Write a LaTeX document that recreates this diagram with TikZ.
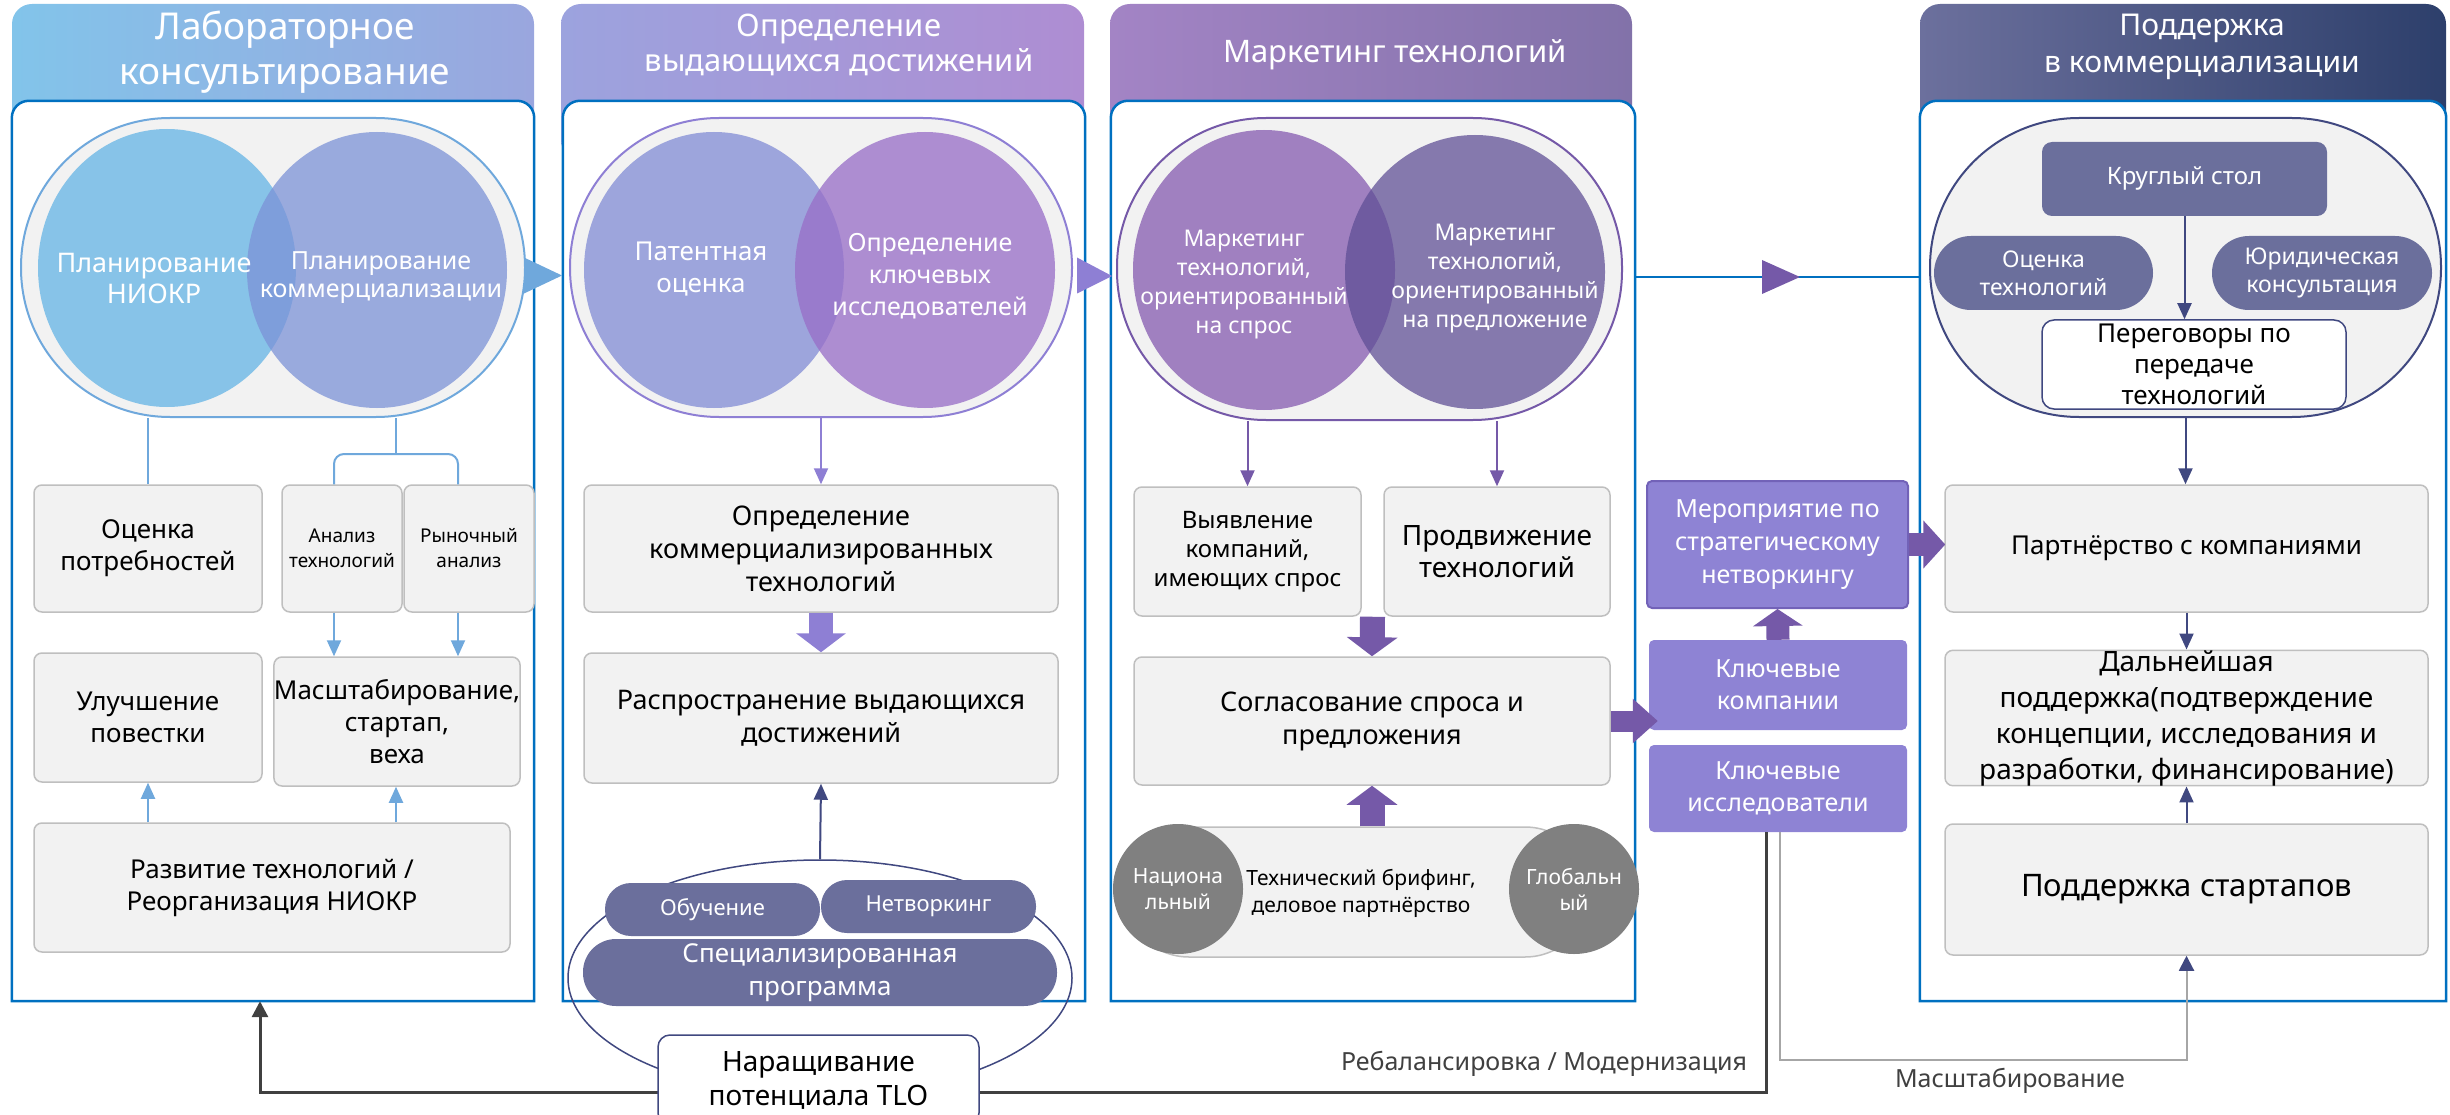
\documentclass[tikz,border=0pt]{standalone}
\usepackage{fontspec}
\setmainfont{Noto Sans}
\usetikzlibrary{arrows.meta,shapes.geometric,calc}
\newcommand\ftsz[2]{\fontsize{#1pt}{#2pt}\selectfont}
\definecolor{gfill}{HTML}{F2F2F2}
\definecolor{gbord}{HTML}{BFBFBF}
\definecolor{frame}{HTML}{0070C0}
\definecolor{cA}{HTML}{6FA8DC}
\definecolor{cB}{HTML}{8E7FD4}
\definecolor{cC}{HTML}{7559A8}
\definecolor{cD}{HTML}{404880}
\definecolor{slate}{HTML}{6B6F9C}
\definecolor{mid}{HTML}{8E83D4}
\definecolor{midb}{HTML}{7262B8}
\definecolor{dk}{HTML}{404040}
\definecolor{lg}{HTML}{A6A6A6}
\definecolor{eAL}{HTML}{87C3E8}
\definecolor{eAR}{HTML}{7C92D7}
\definecolor{eBL}{HTML}{9DA5DC}
\definecolor{eBR}{HTML}{996FC8}
\definecolor{eCL}{HTML}{A080C0}
\definecolor{eCR}{HTML}{5F4F95}
\definecolor{gc}{HTML}{808080}
\definecolor{hAL}{HTML}{82C4EA}
\definecolor{hAR}{HTML}{9AA6DE}
\definecolor{hBL}{HTML}{9CA3DE}
\definecolor{hBR}{HTML}{AE8DD2}
\definecolor{hCL}{HTML}{A384C5}
\definecolor{hCR}{HTML}{8272A9}
\definecolor{hDL}{HTML}{6C709D}
\definecolor{hDR}{HTML}{2D3F6B}
\begin{document}
\begin{tikzpicture}[x=1pt,y=-1pt,
  gbox/.style={draw=gbord, fill=gfill, line width=1.5pt, rounded corners=8pt, align=center, inner sep=0pt, text=black},
  vcont/.style={fill=gfill, line width=2pt, rounded corners=149pt, inner sep=0pt},
  ell/.style={ellipse, inner sep=0pt, draw=none},
  wtxt/.style={text=white, align=center, inner sep=0pt},
  pill/.style={fill=slate, text=white, align=center, inner sep=0pt},
  mbox/.style={fill=mid, text=white, align=center, inner sep=0pt, rounded corners=5pt},
  thin/.style={line width=2pt, -{Triangle[length=16pt,width=14pt]}},
  plain/.style={line width=2pt},
  frameS/.style={draw=frame, fill=white, line width=2.5pt},
  lbl/.style={text=dk, inner sep=0pt, font=\ftsz{25}{30}}
]
\useasboundingbox (0,0) rectangle (2450,1115);

% headers
\shade[left color=hAL, right color=hAR, rounded corners=20pt] (12,4) rectangle (534,160);
\shade[left color=hBL, right color=hBR, rounded corners=20pt] (561,4) rectangle (1084,160);
\shade[left color=hCL, right color=hCR, rounded corners=20pt] (1110,4) rectangle (1632,160);
\shade[left color=hDL, right color=hDR, rounded corners=20pt] (1920,4) rectangle (2446,160);

% inner frames
\node[inner sep=0pt, minimum width=522pt, minimum height=900pt] (in1) at (273,551) {};
\node[inner sep=0pt, minimum width=522pt, minimum height=900pt] (in2) at (824,551) {};
\node[inner sep=0pt, minimum width=524pt, minimum height=900pt] (in3) at (1373,551) {};
\node[inner sep=0pt, minimum width=526pt, minimum height=900pt] (in4) at (2183,551) {};
\foreach \f in {in1,in2,in3,in4}{
  \filldraw[frameS] (\f.south west) -- ([yshift=-17pt]\f.north west) arc[start angle=180,end angle=90,radius=17pt]
    -- ([xshift=-17pt]\f.north east) arc[start angle=90,end angle=0,radius=17pt] -- (\f.south east) -- cycle;
}

% titles
\node[wtxt, font=\ftsz{37}{45}] (t1) at (285,52) {Лабораторное\\консультирование};
\node[wtxt, font=\ftsz{31}{35}] (t2) at (839,45) {Определение\\выдающихся достижений};
\node[wtxt, font=\ftsz{31}{35}] (t3) at (1395,55) {Маркетинг технологий};
\node[wtxt, font=\ftsz{30}{37}] (t4) at (2202,47) {Поддержка\\в коммерциализации};

% ===== column 1 =====
\node[vcont, draw=cA, minimum width=504pt, minimum height=299pt] (v1) at (273,267.5) {};
\node[ell, fill=eAL, minimum width=258pt, minimum height=278pt] (e1l) at (167,268) {};
\node[ell, fill=eAR, fill opacity=0.75, minimum width=260pt, minimum height=276pt] (e1r) at (377,270) {};
\node[wtxt, font=\ftsz{27}{31}] (x1l) at (154,278) {Планирование\\НИОКР};
\node[wtxt, font=\ftsz{25}{28}] (x1r) at (381,278) {Планирование\\коммерциализации};

\node[gbox, minimum width=228pt, minimum height=127pt, font=\ftsz{26}{32}] (n11) at (148,548.5) {Оценка\\потребностей};
\node[gbox, minimum width=120pt, minimum height=127pt, font=\ftsz{19}{25}] (n12) at (342,548.5) {Анализ\\технологий};
\node[gbox, minimum width=130pt, minimum height=127pt, font=\ftsz{19}{25}] (n13) at (469,548.5) {Рыночный\\анализ};
\node[gbox, minimum width=228pt, minimum height=129pt, font=\ftsz{26}{32}] (n14) at (148,717.5) {Улучшение\\повестки};
\node[gbox, minimum width=242pt, minimum height=129pt, font=\ftsz{26}{32}] (n15) at (397,721.5) {Масштабирование,\\стартап,\\веха};
\node[gbox, minimum width=476pt, minimum height=129pt, font=\ftsz{26}{32}] (n16) at (272,887.5) {Развитие технологий /\\Реорганизация НИОКР};

\draw[cA, plain] (n11.north |- v1.south) -- (n11.north);
\coordinate (br1) at (396,454);
\draw[cA, plain] (br1 |- v1.south) -- (br1);
\draw[cA, plain, rounded corners=10pt] ([xshift=-8pt]n12.north) |- (br1) -| ([xshift=-11pt]n13.north);
\draw[cA, thin] ([xshift=-8pt]n12.south) -- ([xshift=-8pt]n12.south |- n15.north);
\draw[cA, thin] ([xshift=-11pt]n13.south) -- ([xshift=-11pt]n13.south |- n15.north);
\draw[cA, thin] (n14.south |- n16.north) -- (n14.south);
\draw[cA, thin] ([xshift=-1pt]n15.south |- n16.north) -- ([xshift=-1pt]n15.south);

% ===== column 2 =====
\node[vcont, draw=cB, minimum width=502pt, minimum height=299pt] (v2) at (821,267.5) {};
\node[ell, fill=eBL, minimum width=260pt, minimum height=276pt] (e2l) at (714,270) {};
\node[ell, fill=eBR, fill opacity=0.77, minimum width=260pt, minimum height=276pt] (e2r) at (925,270) {};
\node[wtxt, font=\ftsz{26}{32}] (x2l) at (701,269) {Патентная\\оценка};
\node[wtxt, font=\ftsz{25}{32}] (x2r) at (930,276) {Определение\\ключевых\\исследователей};

\node[gbox, minimum width=474pt, minimum height=127pt, font=\ftsz{27}{33}] (n21) at (821,548.5) {Определение\\коммерциализированных\\технологий};
\node[gbox, minimum width=474pt, minimum height=130pt, font=\ftsz{27}{33}] (n22) at (821,718) {Распространение выдающихся\\достижений};
\draw[cB, thin] (v2.south) -- (v2.south |- n21.north);
\draw[cB, line width=24pt, -{Triangle[length=19pt,width=49pt]}] (n21.south) -- (n22.north);

\node[ellipse, draw=cD, line width=1.5pt, minimum width=504pt, minimum height=236pt, inner sep=0pt] (e2) at (820,978) {};
\node[pill, rounded corners=26pt, minimum width=215pt, minimum height=53pt, font=\ftsz{22}{26}] (p21) at (712.5,909.5) {Обучение};
\node[pill, rounded corners=26pt, minimum width=215pt, minimum height=53pt, font=\ftsz{22}{26}] (p22) at (928.5,906.5) {Нетворкинг};
\node[pill, rounded corners=33pt, minimum width=474pt, minimum height=67pt, font=\ftsz{26}{33}] (p23) at (820,972.5) {Специализированная\\программа};
\draw[cD, thin] (e2.north) -- (n22.south);

% ===== column 3 =====
\node[vcont, draw=cC, minimum width=505pt, minimum height=302pt] (v3) at (1369.5,269) {};
\node[ell, fill=eCL, minimum width=262pt, minimum height=280pt] (e3l) at (1264,270) {};
\node[ell, fill=eCR, fill opacity=0.74, minimum width=260pt, minimum height=274pt] (e3r) at (1475,272) {};
\node[wtxt, font=\ftsz{23}{29}] (x3l) at (1244,285) {Маркетинг\\технологий,\\ориентированный\\на спрос};
\node[wtxt, font=\ftsz{23}{29}] (x3r) at (1495,279) {Маркетинг\\технологий,\\ориентированный\\на предложение};

\node[gbox, minimum width=227pt, minimum height=129pt, font=\ftsz{24}{29}] (n31) at (1247.5,551.5) {Выявление\\компаний,\\имеющих спрос};
\node[gbox, minimum width=226pt, minimum height=129pt, font=\ftsz{28}{32}] (n32) at (1497,551.5) {Продвижение\\технологий};
\node[gbox, minimum width=476pt, minimum height=128pt, font=\ftsz{27}{33}] (n33) at (1372,721) {Согласование спроса и\\предложения};
\node[gbox, rounded corners=65pt, minimum width=466pt, minimum height=130pt, font=\ftsz{21}{27}] (n34) at (1357,892) {};
\node[text=black, align=center, inner sep=0pt, font=\ftsz{21}{27}] (x34) at (1361,893) {Технический брифинг,\\деловое партнёрство};
\node[circle, fill=gc, minimum size=130pt, inner sep=0pt, text=white, align=center, font=\ftsz{21}{26}] (nat) at (1178,889) {Национа\\льный};
\node[circle, fill=gc, minimum size=130pt, inner sep=0pt, text=white, align=center, font=\ftsz{21}{26}] (glob) at (1574,889) {Глобальн\\ый};

\draw[cC, thin] (n31.north |- v3.south) -- (n31.north);
\draw[cC, thin] (n32.north |- v3.south) -- (n32.north);
\draw[cC, line width=25pt, -{Triangle[length=19pt,width=50pt]}] ($(n31.south east)!.5!(n32.south west)$) -- (n33.north);
\draw[cC, line width=25pt, -{Triangle[length=19pt,width=50pt]}] (n33.south |- n34.north) -- (n33.south);

% ===== column 4 =====
\node[vcont, draw=cD, minimum width=511pt, minimum height=299pt] (v4) at (2185.5,267.5) {};
\node[pill, rounded corners=10pt, minimum width=285pt, minimum height=74pt, font=\ftsz{24}{29}] (n41) at (2184.5,179) {Круглый стол};
\node[pill, rounded corners=37pt, minimum width=219pt, minimum height=74pt, font=\ftsz{23}{28}] (n42) at (2043.5,273) {Оценка\\технологий};
\node[pill, rounded corners=37pt, minimum width=220pt, minimum height=74pt, font=\ftsz{23}{28}] (n43) at (2322,273) {Юридическая\\консультация};
\node[draw=cD, fill=white, line width=1.5pt, rounded corners=12pt, align=center, inner sep=0pt, minimum width=304pt, minimum height=89pt, font=\ftsz{26}{31}] (n44) at (2194,364.5) {Переговоры по\\передаче\\технологий};
\draw[cD, thin] (n41.south) -- (n41.south |- n44.north);

\node[gbox, minimum width=483pt, minimum height=127pt, font=\ftsz{26}{31}] (n45) at (2186.5,548.5) {Партнёрство с компаниями};
\node[gbox, minimum width=483pt, minimum height=130pt, font=\ftsz{28}{36}] (n46) at (2186.5,718) {Дальнейшая\\поддержка(подтверждение\\концепции, исследования и\\разработки, финансирование)};
\node[gbox, minimum width=483pt, minimum height=131pt, font=\ftsz{31}{37}] (n47) at (2186.5,889.5) {Поддержка стартапов};
\draw[cD, thin] (v4.south) -- (v4.south |- n45.north);
\draw[cD, thin] (n45.south) -- (n46.north);
\draw[cD, thin] (n47.north) -- (n46.south);

% ===== middle =====
\node[mbox, draw=midb, line width=2pt, minimum width=261pt, minimum height=127pt, font=\ftsz{25}{33}] (m1) at (1777.5,544.5) {Мероприятие по\\стратегическому\\нетворкингу};
\node[mbox, minimum width=258pt, minimum height=90pt, font=\ftsz{25}{32}] (m2) at (1778,685) {Ключевые\\компании};
\node[mbox, minimum width=258pt, minimum height=87pt, font=\ftsz{25}{32}] (m3) at (1778,788.5) {Ключевые\\исследователи};
\draw[cC, line width=23pt, -{Triangle[length=17pt,width=49pt]}] (m2.north) -- (m1.south);
\draw[cC, line width=21pt, -{Triangle[length=25pt,width=43pt]}] (n33.east) -- ([xshift=9pt]n33.east -| m2.west);
\draw[cC, line width=23pt, -{Triangle[length=22pt,width=47pt]}] (m1.east) -- ([xshift=1pt]m1.east -| n45.west);

% ===== links between columns =====
\fill[cA] ($(v1.east)+(-2,-10)$) -- ($(v2.west)+(-7,8)$) -- ($(v1.east)+(-2,26)$) -- cycle;
\fill[cB] ($(v2.east)+(4,-10)$) -- ($(v3.west)+(-4,7)$) -- ($(v2.east)+(4,26)$) -- cycle;
\draw[frame, line width=2pt] ($(in3.east)+(0,-274)$) -- ($(in4.west)+(0,-274)$);
\fill[cC] (1762,260) -- (1800,277) -- (1762,294) -- cycle;

% ===== bottom loops =====
\draw[dk, line width=3pt, -{Triangle[length=16pt,width=16pt]}] ([xshift=-12pt]m3.south) |- ($([xshift=-13pt]in1.south)+(0,91)$) -- ([xshift=-13pt]in1.south);
\draw[lg, line width=2pt, -{Triangle[length=15pt,width=15pt,color=cD]}] ([xshift=2pt]m3.south) |- ($(n47.south)+(0,104)$) -- (n47.south);
\node[lbl] (lb1) at (1544,1064) {Ребалансировка / Модернизация};
\node[lbl] (lb2) at (2010,1081) {Масштабирование};

\node[draw=cD, fill=white, line width=1.5pt, rounded corners=12pt, align=center, inner sep=0pt, minimum width=321pt, minimum height=90pt, font=\ftsz{28}{34}] (tlo) at (818.5,1080) {Наращивание\\потенциала TLO};
\end{tikzpicture}
\end{document}
